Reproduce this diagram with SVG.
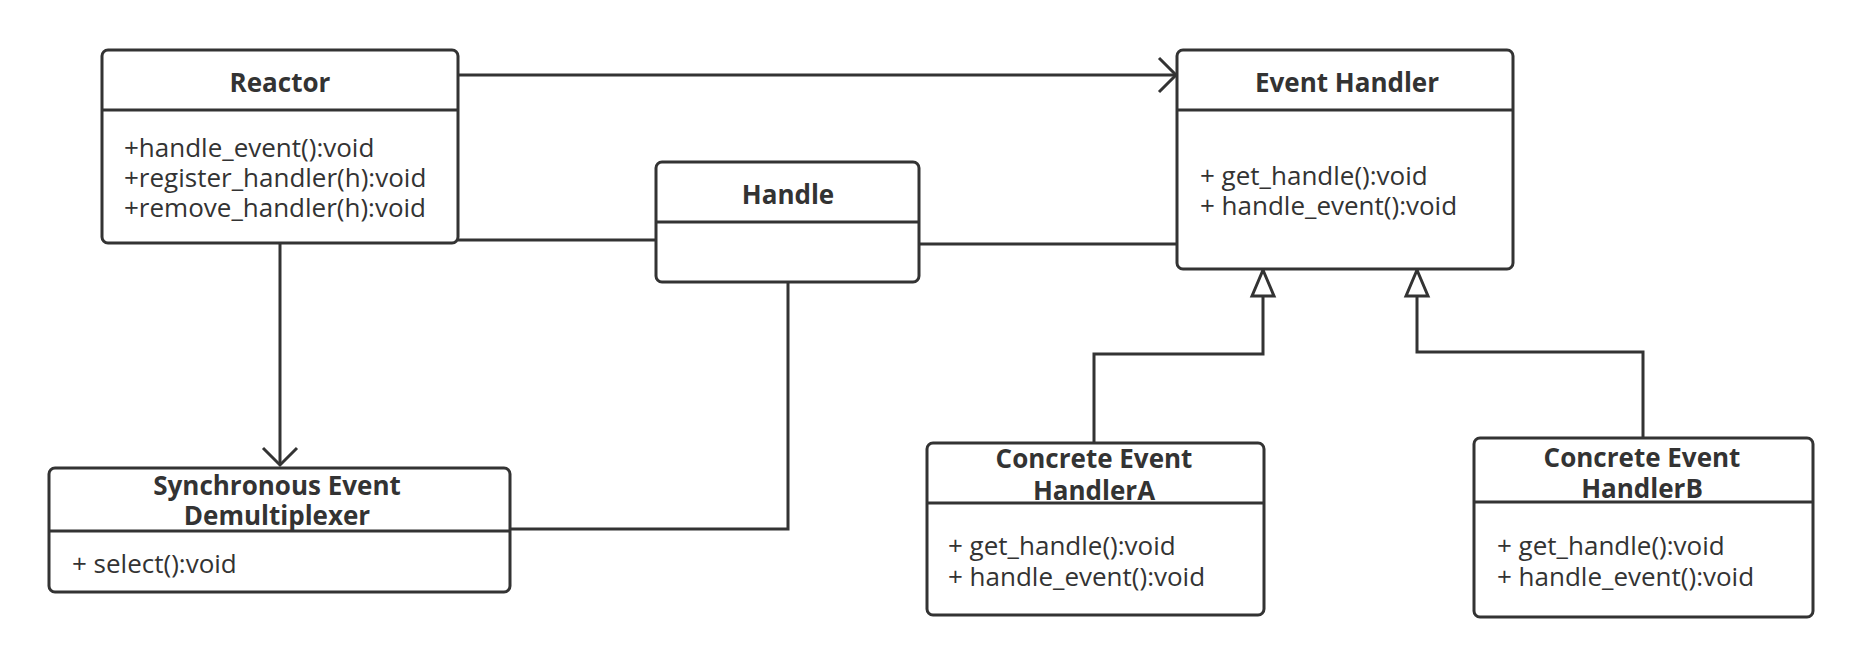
<svg xmlns="http://www.w3.org/2000/svg" width="1862" height="666" viewBox="0 0 1862 666">
<style>
.box{fill:#fff;stroke:#333;stroke-width:3}
.div{stroke:#333;stroke-width:3;fill:none}
.t{font-family:"Open Sans","Liberation Sans",sans-serif;font-weight:bold;font-size:26px;fill:#333;text-anchor:middle}
.m{font-family:"Open Sans","Liberation Sans",sans-serif;font-size:26px;fill:#333}
.c{stroke:#333;stroke-width:3;fill:none}
</style>
<defs>
<marker id="open" markerUnits="userSpaceOnUse" markerWidth="30" markerHeight="40" viewBox="-20 -20 24 40" refX="0" refY="0" orient="auto">
<path d="M-17,-17 L0,0 L-17,17" fill="none" stroke="#333" stroke-width="3"/>
</marker>
<marker id="tri" markerUnits="userSpaceOnUse" markerWidth="40" markerHeight="40" viewBox="-30 -20 34 40" refX="0" refY="0" orient="auto">
<path d="M-26,-11 L0,0 L-26,11 Z" fill="#fff" stroke="#333" stroke-width="3"/>
</marker>
</defs>
<rect width="1862" height="666" fill="#fff"/>
<g id="connectors">
<path class="c" d="M458,75 L1176,75" marker-end="url(#open)"/>
<path class="c" d="M458,240 L656,240"/>
<path class="c" d="M919,244 L1177,244"/>
<path class="c" d="M280,243 L280,465" marker-end="url(#open)"/>
<path class="c" d="M509,529 L788,529 L788,283"/>
<path class="c" d="M1094,443 L1094,354 L1263,354 L1263,270" marker-end="url(#tri)"/>
<path class="c" d="M1643,438 L1643,352 L1417,352 L1417,270" marker-end="url(#tri)"/>
</g>
<g id="reactor">
<rect class="box" x="102" y="50" width="356" height="193" rx="6"/>
<line class="div" x1="102" y1="110" x2="458" y2="110"/>
<text class="t" x="280" y="92">Reactor</text>
<text class="m" x="124" y="157">+handle_event():void</text>
<text class="m" x="124" y="187">+register_handler(h):void</text>
<text class="m" x="124" y="217">+remove_handler(h):void</text>
</g>
<g id="handle">
<rect class="box" x="656" y="162" width="263" height="120" rx="6"/>
<line class="div" x1="656" y1="222" x2="919" y2="222"/>
<text class="t" x="788" y="204">Handle</text>
</g>
<g id="event-handler">
<rect class="box" x="1177" y="50" width="336" height="219" rx="6"/>
<line class="div" x1="1177" y1="110" x2="1513" y2="110"/>
<text class="t" x="1347" y="92">Event Handler</text>
<text class="m" x="1200" y="185">+ get_handle():void</text>
<text class="m" x="1200" y="215">+ handle_event():void</text>
</g>
<g id="demux">
<rect class="box" x="49" y="468" width="461" height="124" rx="6"/>
<line class="div" x1="49" y1="531" x2="510" y2="531"/>
<text class="t" x="277" y="495">Synchronous Event</text>
<text class="t" x="277" y="525">Demultiplexer</text>
<text class="m" x="72" y="573">+ select():void</text>
</g>
<g id="concrete-a">
<rect class="box" x="927" y="443" width="337" height="172" rx="6"/>
<line class="div" x1="927" y1="503" x2="1264" y2="503"/>
<text class="t" x="1094" y="468">Concrete Event</text>
<text class="t" x="1094" y="500">HandlerA</text>
<text class="m" x="948" y="555">+ get_handle():void</text>
<text class="m" x="948" y="586">+ handle_event():void</text>
</g>
<g id="concrete-b">
<rect class="box" x="1474" y="438" width="339" height="179" rx="6"/>
<line class="div" x1="1474" y1="502" x2="1813" y2="502"/>
<text class="t" x="1642" y="467">Concrete Event</text>
<text class="t" x="1642" y="498">HandlerB</text>
<text class="m" x="1497" y="555">+ get_handle():void</text>
<text class="m" x="1497" y="586">+ handle_event():void</text>
</g>
</svg>
